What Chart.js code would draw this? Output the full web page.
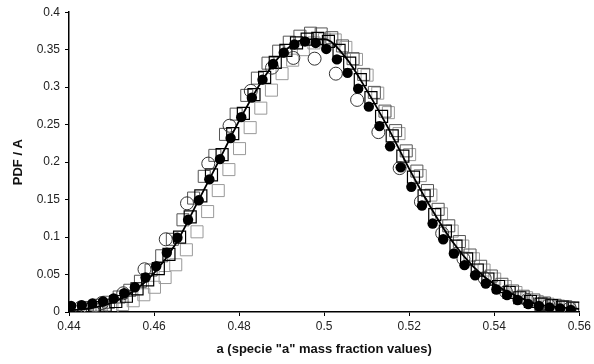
<!DOCTYPE html>
<html>
<head>
<meta charset="utf-8">
<script src="https://cdn.jsdelivr.net/npm/chart.js@4.4.1/dist/chart.umd.min.js"></script>
<style>
  html, body { margin: 0; padding: 0; background: #fff; }
  #wrap { width: 594px; height: 364px; }
</style>
</head>
<body>
<div id="wrap"><canvas id="pdfChart" width="594" height="364"></canvas></div>
<script>
// x grids (sampling positions of each series)
const FILLED_X0 = 0.4405, OPEN_X0 = 0.44275, SQUARE_X0 = 0.4435, LINE_X0 = 0.44;

// filled circles, step 0.0025
const filledVals = [
  0.008, 0.009, 0.0115, 0.014, 0.018, 0.025, 0.033, 0.046, 0.061, 0.079,
  0.099, 0.123, 0.149, 0.177, 0.204, 0.232, 0.260, 0.286, 0.310, 0.331,
  0.346, 0.357, 0.361, 0.359, 0.351, 0.337, 0.319, 0.298, 0.274, 0.248,
  0.221, 0.193, 0.167, 0.142, 0.118, 0.097, 0.078, 0.0625, 0.049, 0.038,
  0.030, 0.0226, 0.016, 0.0106, 0.008, 0.0062, 0.0049, 0.0027
];

// open circles, step 0.005
const openVals = [
  0.006, 0.012, 0.025, 0.057, 0.097, 0.145, 0.198, 0.2485, 0.295, 0.326,
  0.339, 0.338, 0.318, 0.283, 0.240, 0.192, 0.147, 0.105, 0.071, 0.045,
  0.027, 0.016, 0.0093, 0.0049
];

// three square series, step 0.0025, slightly staggered in x
const squareValsA = [
  0.004, 0.006, 0.009, 0.014, 0.021, 0.031, 0.043, 0.058, 0.077, 0.100,
  0.127, 0.155, 0.183, 0.210, 0.238, 0.265, 0.290, 0.313, 0.333, 0.349,
  0.359, 0.364, 0.365, 0.361, 0.349, 0.332, 0.310, 0.286, 0.261, 0.235,
  0.208, 0.180, 0.155, 0.130, 0.108, 0.088, 0.071, 0.056, 0.044, 0.034,
  0.026, 0.019, 0.014, 0.0105, 0.0085, 0.0065, 0.005
];
const squareValsB = [
  0.006, 0.009, 0.013, 0.020, 0.029, 0.041, 0.056, 0.075, 0.097, 0.123,
  0.152, 0.181, 0.209, 0.237, 0.264, 0.289, 0.312, 0.332, 0.348, 0.360,
  0.368, 0.372, 0.371, 0.366, 0.355, 0.338, 0.317, 0.293, 0.268, 0.242,
  0.215, 0.188, 0.162, 0.137, 0.115, 0.094, 0.076, 0.061, 0.048, 0.037,
  0.028, 0.021, 0.016, 0.012, 0.009, 0.007, 0.0055
];
const squareValsC = [
  0.003, 0.004, 0.007, 0.010, 0.015, 0.023, 0.033, 0.046, 0.063, 0.083,
  0.107, 0.134, 0.162, 0.190, 0.218, 0.246, 0.272, 0.296, 0.318, 0.336,
  0.350, 0.359, 0.364, 0.363, 0.353, 0.337, 0.316, 0.292, 0.266, 0.238,
  0.210, 0.182, 0.156, 0.131, 0.108, 0.088, 0.071, 0.056, 0.044, 0.034,
  0.026, 0.019, 0.014, 0.0105, 0.008, 0.006, 0.0045
];

// fitted curve, step 0.005 from 0.44 to 0.56
const curveVals = [
  0.002, 0.005, 0.012, 0.027, 0.052, 0.090, 0.144, 0.199, 0.255, 0.305,
  0.344, 0.363, 0.364, 0.340, 0.296, 0.246, 0.191, 0.140, 0.095, 0.061,
  0.037, 0.022, 0.0105, 0.0065, 0.004
];

const xTicks = [0.44, 0.46, 0.48, 0.5, 0.52, 0.54, 0.56];
const yTicks = [0, 0.05, 0.1, 0.15, 0.2, 0.25, 0.3, 0.35, 0.4];

function toPoints(x0, step, vals) {
  return vals.map((v, i) => ({ x: x0 + step * i, y: v }));
}

const tickFont = { family: '"Liberation Sans", Arial, sans-serif', size: 12 };
const titleFont = { family: '"Liberation Sans", Arial, sans-serif', size: 13, weight: 'bold' };

const ctx = document.getElementById('pdfChart').getContext('2d');
new Chart(ctx, {
  type: 'scatter',
  data: {
    datasets: [
      {
        label: 'curve',
        data: toPoints(LINE_X0, 0.005, curveVals),
        showLine: true,
        borderColor: '#000',
        borderWidth: 1.8,
        pointRadius: 0,
        cubicInterpolationMode: 'monotone',
      },
      {
        label: 'filled',
        data: toPoints(FILLED_X0, 0.0025, filledVals),
        pointStyle: 'circle',
        pointRadius: 5.2,
        backgroundColor: '#000',
        borderColor: '#000',
        borderWidth: 0,
      },
      {
        label: 'open',
        data: toPoints(OPEN_X0, 0.005, openVals),
        pointStyle: 'circle',
        pointRadius: 6.5,
        backgroundColor: 'rgba(0,0,0,0)',
        borderColor: '#333',
        borderWidth: 1,
      },
      {
        label: 'squares A',
        data: toPoints(SQUARE_X0, 0.0025, squareValsA),
        pointStyle: 'rect',
        pointRadius: 8.5,
        backgroundColor: 'rgba(0,0,0,0)',
        borderColor: '#000',
        borderWidth: 1.2,
      },
      {
        label: 'squares B',
        data: toPoints(SQUARE_X0 + 0.0008, 0.0025, squareValsB),
        pointStyle: 'rect',
        pointRadius: 8.5,
        backgroundColor: 'rgba(0,0,0,0)',
        borderColor: '#555',
        borderWidth: 1,
      },
      {
        label: 'squares C',
        data: toPoints(SQUARE_X0 + 0.0016, 0.0025, squareValsC),
        pointStyle: 'rect',
        pointRadius: 8.5,
        backgroundColor: 'rgba(0,0,0,0)',
        borderColor: '#999',
        borderWidth: 1,
      },
    ],
  },
  options: {
    responsive: false,
    animation: false,
    layout: { padding: { left: 0, top: 11, right: 10, bottom: 0 } },
    plugins: {
      legend: { display: false },
      tooltip: { enabled: false },
    },
    scales: {
      x: {
        type: 'linear',
        min: 0.44,
        max: 0.56,
        afterBuildTicks: (scale) => { scale.ticks = xTicks.map(v => ({ value: v })); },
        afterFit: (scale) => { scale.height = 52; },
        ticks: {
          callback: (v) => String(+v.toFixed(2)),
          font: tickFont,
          color: '#222',
          padding: 3,
          maxRotation: 0,
        },
        grid: { drawOnChartArea: false, drawTicks: true, tickLength: 4, color: '#000', lineWidth: 1 },
        border: { display: true, color: '#000', width: 1.5 },
        title: { display: true, text: 'a (specie "a" mass fraction values)', font: titleFont, color: '#111', padding: { top: 4, bottom: 7 } },
      },
      y: {
        min: 0,
        max: 0.4,
        afterBuildTicks: (scale) => { scale.ticks = yTicks.map(v => ({ value: v })); },
        afterFit: (scale) => { scale.width = 69; },
        ticks: {
          callback: (v) => String(+v.toFixed(2)),
          font: tickFont,
          color: '#222',
          padding: 5,
        },
        grid: { drawOnChartArea: false, drawTicks: true, tickLength: 4, color: '#000', lineWidth: 1 },
        border: { display: true, color: '#000', width: 1.5 },
        title: { display: true, text: 'PDF / A', font: titleFont, color: '#111', padding: { top: 11, bottom: 0 } },
      },
    },
  },
});
</script>
</body>
</html>
